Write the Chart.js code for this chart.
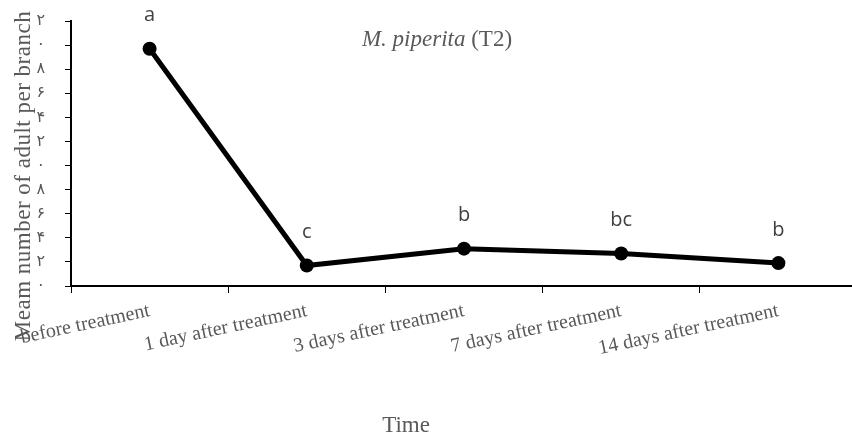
<!DOCTYPE html>
<html>
<head>
<meta charset="utf-8">
<script src="https://cdn.jsdelivr.net/npm/chart.js@4"></script>
<style>
    body { margin: 0; background: #fff; }
    #wrap { width: 852px; height: 437px; position: relative; }
</style>
</head>
<body>
<div id="wrap"><canvas id="myChart"></canvas></div>
<script>
const categories = ['before treatment', '1 day after treatment', '3 days after treatment', '7 days after treatment', '14 days after treatment'];
const adultMeans = [19.7, 1.7, 3.1, 2.7, 1.9];
const groupLetters = ['a', 'c', 'b', 'bc', 'b'];
const yTickLabels = ['۰', '۲', '۴', '۶', '۸', '۰', '۲', '۴', '۶', '۸', '۰', '۲'];

const titleItalic = 'M. piperita';
const titlePlain = ' (T2)';
const yTitle = 'Meam number of adult per branch';
const xTitle = 'Time';

const serif = "'Liberation Serif', 'Times New Roman', serif";
const grey = '#595959';

// the original plot runs a few px past the right edge of the picture
const stretchRight = {
    id: 'stretchRight',
    afterLayout(chart) {
        const s = chart.scales.x;
        s.right = 857;
        s.width = s.right - s.left;
        chart.chartArea.right = 857;
        chart.chartArea.width = 857 - chart.chartArea.left;
        s.configure();
    }
};

// extra text the axes can't place themselves
const extraText = {
    id: 'extraText',
    afterDraw(chart) {
        const ctx = chart.ctx;
        ctx.save();

        // chart title, centred
        ctx.fillStyle = grey;
        ctx.textBaseline = 'alphabetic';
        ctx.font = 'italic 23px ' + serif;
        const w1 = ctx.measureText(titleItalic).width;
        ctx.font = '23px ' + serif;
        const w2 = ctx.measureText(titlePlain).width;
        let x = 437 - (w1 + w2) / 2;
        ctx.textAlign = 'left';
        ctx.font = 'italic 23px ' + serif;
        ctx.fillText(titleItalic, x, 46);
        ctx.font = '23px ' + serif;
        ctx.fillText(titlePlain, x + w1, 46);

        // x axis title
        ctx.textAlign = 'center';
        ctx.font = '23px ' + serif;
        ctx.fillText(xTitle, 406, 432);

        // y axis title, overlapping the tick labels like the original
        ctx.save();
        ctx.translate(30, 176);
        ctx.rotate(-Math.PI / 2);
        ctx.textAlign = 'center';
        ctx.font = '23px ' + serif;
        ctx.letterSpacing = '0.5px';
        ctx.fillText(yTitle, 0, 0);
        ctx.restore();

        // significance letters over points
        const meta = chart.getDatasetMeta(0);
        ctx.font = "20px 'Open Sans', 'Liberation Sans', sans-serif";
        ctx.fillStyle = '#404040';
        ctx.textAlign = 'center';
        ctx.textBaseline = 'middle';
        meta.data.forEach((pt, i) => {
            ctx.fillText(groupLetters[i], pt.x, pt.y - 33);
        });
        ctx.restore();
    }
};

const ctx = document.getElementById('myChart').getContext('2d');
const myChart = new Chart(ctx, {
    type: 'line',
    data: {
        labels: categories,
        datasets: [{
            data: adultMeans,
            borderColor: '#000',
            backgroundColor: '#000',
            borderWidth: 5,
            pointRadius: 7,
            pointHoverRadius: 7,
            pointBorderWidth: 0,
            tension: 0,
            clip: false
        }]
    },
    options: {
        responsive: true,
        maintainAspectRatio: false,
        animation: false,
        layout: { autoPadding: false, padding: { top: 21, right: 0, left: 0, bottom: 0 } },
        plugins: {
            legend: { display: false },
            tooltip: { enabled: false }
        },
        scales: {
            x: {
                offset: true,
                grid: { offset: true, drawOnChartArea: false, tickLength: 7, color: '#000', lineWidth: 1 },
                border: { color: '#000', width: 2 },
                ticks: {
                    autoSkip: false,
                    minRotation: 12,
                    maxRotation: 12,
                    padding: 6,
                    color: grey,
                    font: { family: serif, size: 20 }
                },
                afterFit(scale) {
                    scale.height = 151;
                    scale.paddingLeft = 0;
                    scale.paddingRight = 0;
                }
            },
            y: {
                min: 0,
                max: 22,
                grid: { drawOnChartArea: false, tickLength: 6, color: '#000', lineWidth: 1 },
                border: { color: '#000', width: 2 },
                ticks: {
                    stepSize: 2,
                    padding: 20,
                    color: grey,
                    font: { family: "'DejaVu Sans', sans-serif", size: 16 },
                    callback: (v, i) => yTickLabels[i]
                },
                afterFit(scale) {
                    scale.width = 71;
                    scale.paddingTop = 0;
                    scale.paddingBottom = 0;
                }
            }
        }
    },
    plugins: [stretchRight, extraText]
});
</script>
</body>
</html>
